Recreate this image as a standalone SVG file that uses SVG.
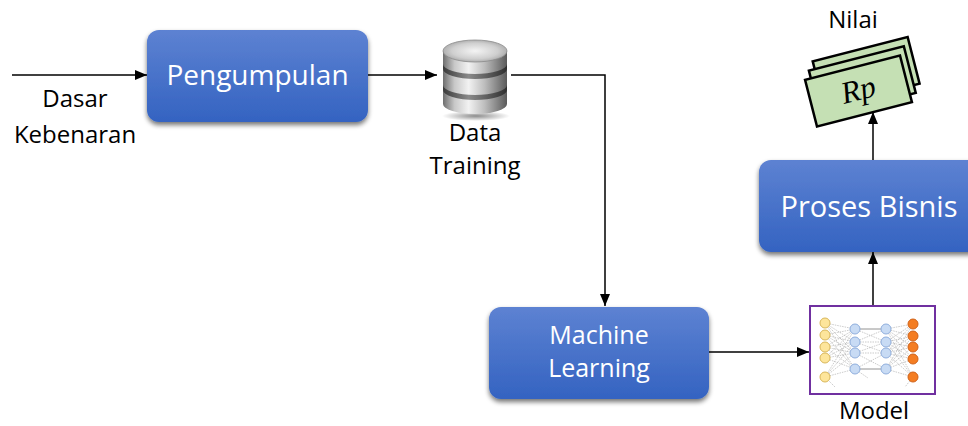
<svg xmlns="http://www.w3.org/2000/svg" width="968" height="426" viewBox="0 0 968 426">
  <defs>
    <linearGradient id="boxFill" x1="0" y1="0" x2="0" y2="1">
      <stop offset="0" stop-color="#5d82d2"/>
      <stop offset="1" stop-color="#3463c1"/>
    </linearGradient>
    <filter id="shadow" x="-10%" y="-10%" width="125%" height="135%">
      <feGaussianBlur in="SourceAlpha" stdDeviation="2.5"/>
      <feOffset dx="0" dy="3" result="b"/>
      <feComponentTransfer><feFuncA type="linear" slope="0.55"/></feComponentTransfer>
      <feMerge><feMergeNode/><feMergeNode in="SourceGraphic"/></feMerge>
    </filter>
    <marker id="arrow" viewBox="0 0 12 10" refX="12" refY="5" markerWidth="12" markerHeight="10" markerUnits="userSpaceOnUse" orient="auto">
      <path d="M0,0 L12,5 L0,10 z" fill="#000"/>
    </marker>
    <linearGradient id="cylBody" x1="0" y1="0" x2="1" y2="0">
      <stop offset="0" stop-color="#6e6e6e"/>
      <stop offset="0.18" stop-color="#c8c8c8"/>
      <stop offset="0.4" stop-color="#f2f2f2"/>
      <stop offset="0.65" stop-color="#bdbdbd"/>
      <stop offset="1" stop-color="#5a5a5a"/>
    </linearGradient>
    <linearGradient id="cylBand" x1="0" y1="0" x2="1" y2="0">
      <stop offset="0" stop-color="#3a3a3a"/>
      <stop offset="0.4" stop-color="#8a8a8a"/>
      <stop offset="1" stop-color="#2e2e2e"/>
    </linearGradient>
    <radialGradient id="cylTop" cx="0.5" cy="0.5" r="0.6">
      <stop offset="0" stop-color="#f4f4f4"/>
      <stop offset="0.6" stop-color="#cfcfcf"/>
      <stop offset="1" stop-color="#9a9a9a"/>
    </radialGradient>
    <radialGradient id="dbShadow" cx="0.5" cy="0.5" r="0.5">
      <stop offset="0" stop-color="#000" stop-opacity="0.45"/>
      <stop offset="1" stop-color="#000" stop-opacity="0"/>
    </radialGradient>
    <style>
      .box { fill: url(#boxFill); filter: url(#shadow); }
      .boxText { font-family: "Open Sans", "Noto Sans", sans-serif; fill: #fff; text-anchor: middle; }
      .label { font-family: "Open Sans", "Noto Sans", sans-serif; font-size: 24px; fill: #000; text-anchor: middle; }
      .conn { fill: none; stroke: #000; stroke-width: 1.5; marker-end: url(#arrow); }
      .bill { fill: #c5e0b4; stroke: #000; stroke-width: 2.5; stroke-linejoin: miter; }
      .edge { stroke: #a8a8a8; stroke-width: 0.6; stroke-dasharray: 1.5 1; }
      .yel { fill: #fde59b; stroke: #d9b75a; stroke-width: 1; }
      .blu { fill: #c8dbf4; stroke: #8faedd; stroke-width: 1; }
      .org { fill: #f47d22; stroke: #d0631a; stroke-width: 1; }
    </style>
  </defs>

  <!-- connectors -->
  <g id="connectors">
    <path class="conn" d="M12,75 H147"/>
    <path class="conn" d="M368,75 H437"/>
    <path class="conn" d="M511,75 H605 V306"/>
    <path class="conn" d="M709,352 H809"/>
    <path class="conn" d="M873,306 V252"/>
    <path class="conn" d="M873,160 V112"/>
  </g>

  <!-- input label -->
  <g id="dasar-kebenaran">
    <text class="label" x="75" y="107">Dasar</text>
    <text class="label" x="75" y="143">Kebenaran</text>
  </g>

  <!-- collection step -->
  <g id="pengumpulan">
    <rect class="box" x="147" y="30" width="221" height="92" rx="12"/>
    <text class="boxText" x="257.5" y="85" font-size="28">Pengumpulan</text>
  </g>

  <!-- training data store -->
  <g id="data-training">
    <ellipse cx="476" cy="116" rx="34" ry="5" fill="url(#dbShadow)"/>
    <path d="M443,51 V104 A32,10 0 0 0 507,104 V51 Z" fill="url(#cylBody)"/>
    <path d="M443,64 A32,10 0 0 0 507,64 V69 A32,10 0 0 1 443,69 Z" fill="url(#cylBand)"/>
    <path d="M443,85 A32,10 0 0 0 507,85 V90 A32,10 0 0 1 443,90 Z" fill="url(#cylBand)"/>
    <ellipse cx="475" cy="51" rx="32" ry="11" fill="url(#cylTop)" stroke="#8c8c8c" stroke-width="0.8"/>
    <text class="label" x="475" y="141">Data</text>
    <text class="label" x="475" y="174">Training</text>
  </g>

  <!-- learning step -->
  <g id="machine-learning">
    <rect class="box" x="489" y="307" width="220" height="92" rx="12"/>
    <text class="boxText" x="599" y="344" font-size="25">Machine</text>
    <text class="boxText" x="599" y="377" font-size="25">Learning</text>
  </g>

  <!-- trained model -->
  <g id="model">
    <rect x="810" y="306" width="125" height="88" fill="#fff" stroke="#7030a0" stroke-width="2"/>
    <g>
      <!-- input to hidden 1 -->
      <path class="edge" d="M825,323 L855,329 M825,323 L855,342 M825,323 L855,353 M825,323 L855,369
        M825,335 L855,329 M825,335 L855,342 M825,335 L855,353 M825,335 L855,369
        M825,347 L855,329 M825,347 L855,342 M825,347 L855,353 M825,347 L855,369
        M825,358 L855,329 M825,358 L855,342 M825,358 L855,353 M825,358 L855,369
        M825,377 L855,329 M825,377 L855,342 M825,377 L855,353 M825,377 L855,369"/>
      <!-- hidden 1 to hidden 2 -->
      <path stroke="#777" stroke-width="0.8" d="M855,329 L886,329 M855,369 L886,369"/>
      <path class="edge" d="M855,329 L886,342 M855,342 L886,329 M855,342 L886,353 M855,353 L886,342 M855,353 L886,369 M855,369 L886,353 M855,342 L886,342 M855,353 L886,353"/>
      <!-- hidden 2 to output -->
      <path class="edge" d="M886,329 L913,324 M886,329 L913,336 M886,329 L913,347 M886,329 L913,359 M886,329 L913,377
        M886,342 L913,324 M886,342 L913,336 M886,342 L913,347 M886,342 L913,359 M886,342 L913,377
        M886,353 L913,324 M886,353 L913,336 M886,353 L913,347 M886,353 L913,359 M886,353 L913,377
        M886,369 L913,324 M886,369 L913,336 M886,369 L913,347 M886,369 L913,359 M886,369 L913,377"/>
      <path class="edge" d="M825,377 L835,387 M855,369 L868,378 M913,377 L905,387"/>
      <circle class="yel" cx="825" cy="323" r="5"/>
      <circle class="yel" cx="825" cy="335" r="5"/>
      <circle class="yel" cx="825" cy="347" r="5"/>
      <circle class="yel" cx="825" cy="358" r="5"/>
      <circle class="yel" cx="825" cy="377" r="5"/>
      <circle class="blu" cx="855" cy="329" r="5"/>
      <circle class="blu" cx="855" cy="342" r="5"/>
      <circle class="blu" cx="855" cy="353" r="5"/>
      <circle class="blu" cx="855" cy="369" r="5"/>
      <circle class="blu" cx="886" cy="329" r="5"/>
      <circle class="blu" cx="886" cy="342" r="5"/>
      <circle class="blu" cx="886" cy="353" r="5"/>
      <circle class="blu" cx="886" cy="369" r="5"/>
      <circle class="org" cx="913" cy="324" r="5"/>
      <circle class="org" cx="913" cy="336" r="5"/>
      <circle class="org" cx="913" cy="347" r="5"/>
      <circle class="org" cx="913" cy="359" r="5"/>
      <circle class="org" cx="913" cy="377" r="5"/>
    </g>
    <text class="label" x="874" y="419">Model</text>
  </g>

  <!-- business process step -->
  <g id="proses-bisnis">
    <rect class="box" x="759" y="160" width="222" height="92" rx="12"/>
    <text class="boxText" x="869" y="217" font-size="29">Proses Bisnis</text>
  </g>

  <!-- value: stack of banknotes -->
  <g id="nilai">
    <text class="label" x="853" y="28">Nilai</text>
    <g transform="translate(858.5,91) rotate(-14.4)">
      <rect class="bill" x="-37" y="-40" width="98" height="48"/>
      <rect class="bill" x="-43" y="-32" width="98" height="48"/>
      <rect class="bill" x="-49" y="-24" width="98" height="48"/>
      <text x="0" y="9" font-family="'Liberation Serif', serif" font-style="italic" font-size="31" text-anchor="middle" fill="#000">Rp</text>
    </g>
  </g>
</svg>
